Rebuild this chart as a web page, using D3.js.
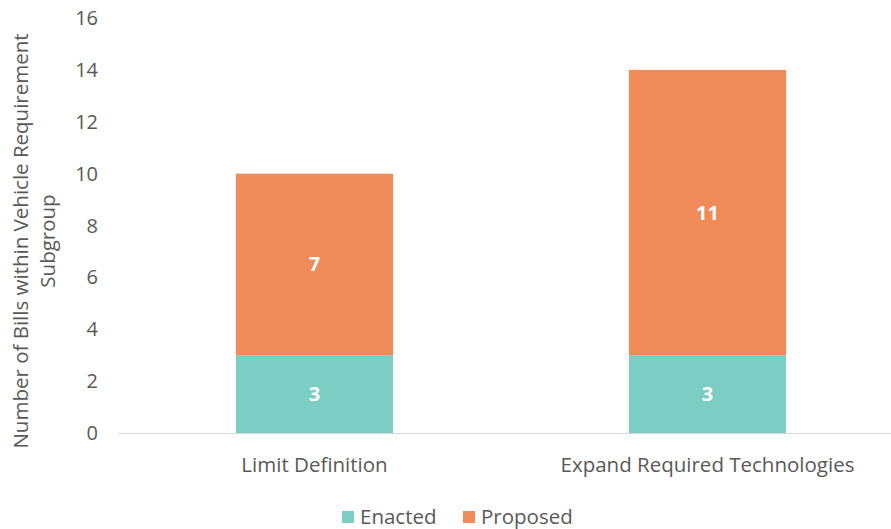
<!DOCTYPE html>
<html>
<head>
<meta charset="utf-8">
<script src="https://cdn.jsdelivr.net/npm/d3@7"></script>
<style>
  body { margin: 0; background: #fff; }
  svg text { font-family: "Open Sans", "Liberation Sans", sans-serif; }
</style>
</head>
<body>
<svg id="chart" width="891" height="529"></svg>
<script>
// Data
const categories = ["Limit Definition", "Expand Required Technologies"];
const enacted = [3, 3];
const proposed = [7, 11];
const seriesNames = ["Enacted", "Proposed"];
const colors = ["#7ccdc4", "#f08c5a"];
const yTicks = [0, 2, 4, 6, 8, 10, 12, 14, 16];

const svg = d3.select('#chart');
const margin = { left: 118, top: 18, bottom: 96 };
const height = 529 - margin.top - margin.bottom;

const x = d3.scaleBand()
    .domain(categories)
    .range([margin.left, 904])
    .paddingInner(0.6)
    .paddingOuter(0.3);

const y = d3.scaleLinear()
    .domain([0, 16])
    .range([margin.top + height, margin.top]);

// y tick labels
svg.append('g')
    .selectAll('text')
    .data(yTicks)
    .join('text')
    .attr('x', 98)
    .attr('y', d => y(d))
    .attr('dy', '0.35em')
    .attr('text-anchor', 'end')
    .attr('font-size', 20)
    .attr('fill', '#595959')
    .text(d => d);

// axis title
const title = svg.append('text')
    .attr('transform', `translate(28, 241) rotate(-90)`)
    .attr('text-anchor', 'middle')
    .attr('font-size', 20.5)
    .attr('fill', '#595959');
title.append('tspan').attr('x', 0).attr('dy', 0).text('Number of Bills within Vehicle Requirement');
title.append('tspan').attr('x', 0).attr('dy', 27).text('Subgroup');

// stacked bars
const rows = categories.map((c, i) => ({ cat: c, Enacted: enacted[i], Proposed: proposed[i] }));
const stacked = d3.stack().keys(seriesNames)(rows);

const layers = svg.append('g')
    .selectAll('g')
    .data(stacked)
    .join('g')
    .attr('fill', (d, i) => colors[i]);

layers.selectAll('rect')
    .data(d => d)
    .join('rect')
    .attr('x', d => x(d.data.cat))
    .attr('width', x.bandwidth())
    .attr('y', d => y(d[1]))
    .attr('height', d => y(d[0]) - y(d[1]));

layers.selectAll('text')
    .data(d => d)
    .join('text')
    .attr('x', d => x(d.data.cat) + x.bandwidth() / 2)
    .attr('y', d => y((d[0] + d[1]) / 2))
    .attr('dy', '0.35em')
    .attr('text-anchor', 'middle')
    .attr('font-size', 20)
    .attr('font-weight', 'bold')
    .attr('fill', '#fff')
    .text(d => d[1] - d[0]);

// baseline
svg.append('line')
    .attr('x1', margin.left)
    .attr('x2', 891)
    .attr('y1', y(0) + 0.5)
    .attr('y2', y(0) + 0.5)
    .attr('stroke', '#d9d9d9')
    .attr('stroke-width', 1);

// category labels
svg.append('g')
    .selectAll('text')
    .data(categories)
    .join('text')
    .attr('x', d => x(d) + x.bandwidth() / 2)
    .attr('y', y(0) + 39)
    .attr('text-anchor', 'middle')
    .attr('font-size', 20.5)
    .attr('fill', '#595959')
    .text(d => d);

// legend
const legendX = [342, 463];
const legend = svg.append('g')
    .selectAll('g')
    .data(seriesNames)
    .join('g')
    .attr('transform', (d, i) => `translate(${legendX[i]}, 511)`);
legend.append('rect')
    .attr('width', 12)
    .attr('height', 12)
    .attr('fill', (d, i) => colors[i]);
legend.append('text')
    .attr('x', 18)
    .attr('y', 6)
    .attr('dy', '0.35em')
    .attr('font-size', 20.5)
    .attr('fill', '#595959')
    .text(d => d);
</script>
</body>
</html>
